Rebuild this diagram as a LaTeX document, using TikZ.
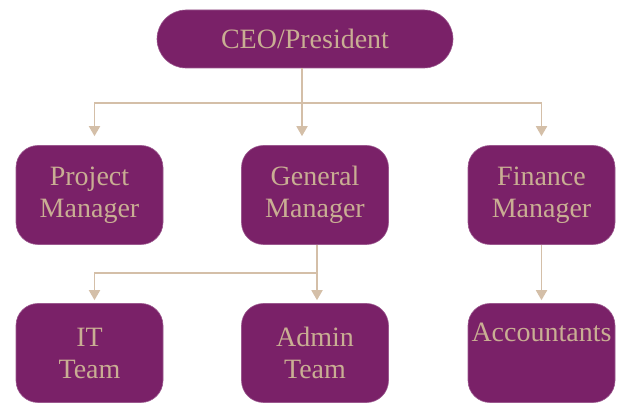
\documentclass[tikz,border=0pt]{standalone}
\usepackage{fontspec}
\setmainfont{Liberation Serif}
\usetikzlibrary{arrows.meta}

\definecolor{boxfill}{HTML}{7A2168}
\definecolor{boxtext}{HTML}{C9AE93}
\definecolor{linkcol}{HTML}{D4BFA8}

\begin{document}
\begin{tikzpicture}[
		x={(1pt,0pt)},
		y={(0pt,-1pt)},
		role/.style={fill=boxfill,draw=boxfill!75!white,line width=0.6pt,text=boxtext,align=center,
			font=\fontsize{28}{32}\selectfont,minimum width=147pt,minimum height=99pt,rounded corners=22pt,inner sep=0pt},
		link/.style={draw=linkcol,line width=1.8pt,-{Triangle[width=11pt,length=10pt]}},
	]
		\useasboundingbox (0,0) rectangle (622,403);

		\node[role,minimum width=296pt,minimum height=58pt,rounded corners=29pt] (ceo) at (305,39) {CEO/President};

		\node[role] (pm) at (89.5,195) {Project\\ Manager};
		\node[role] (gm) at (315,195) {General\\ Manager};
		\node[role] (fm) at (541.5,195) {Finance\\ Manager};

		\node[role] (it) at (89.5,353) {IT\\ Team};
		\node[role] (am) at (315,353) {Admin\\ Team};
		\node[role] (acc) at (541.5,353) {Accountants\\ \strut};

		% top level bus
		\coordinate (bus) at (0,103);
		\draw[link,shorten >=9pt] ([xshift=-3pt]ceo.south) -- ([xshift=-3pt]ceo.south |- gm.north);
		\draw[link,shorten >=9pt] ([xshift=-3pt]ceo.south |- bus) -| ([xshift=5pt]pm.north);
		\draw[link,shorten >=9pt] ([xshift=-3pt]ceo.south |- bus) -| (fm.north);

		% second level
		\coordinate (bus2) at (0,273);
		\draw[link,shorten >=3pt] ([xshift=2pt]gm.south) -- ([xshift=2pt]am.north);
		\draw[link,shorten >=3pt] ([xshift=2pt]gm.south |- bus2) -| ([xshift=5pt]it.north);
		\draw[link,shorten >=3pt] (fm.south) -- (acc.north);
	\end{tikzpicture}
\end{document}
